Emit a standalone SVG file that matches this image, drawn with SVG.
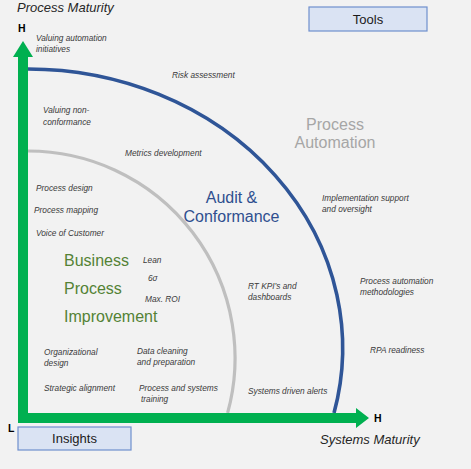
<svg xmlns="http://www.w3.org/2000/svg" width="471" height="469" viewBox="0 0 471 469">
<style>
.s{font-family:"Liberation Sans",Arial,sans-serif;font-style:italic;font-size:8.3px;fill:#3a3a3a}
.ax{font-family:"Liberation Sans",Arial,sans-serif;font-style:italic;font-size:13px;fill:#262626}
.hl{font-family:"Liberation Sans",Arial,sans-serif;font-weight:bold;font-size:10.5px;fill:#000}
.g{font-family:"Liberation Sans",Arial,sans-serif;font-size:16px;fill:#548235}
.b{font-family:"Liberation Sans",Arial,sans-serif;font-size:16px;fill:#2f4f8f;text-anchor:middle}
.a{font-family:"Liberation Sans",Arial,sans-serif;font-size:16px;fill:#a6a6a6;text-anchor:middle}
.box{fill:#dae3f3;stroke:#6f8fce;stroke-width:1.2}
.bt{font-family:"Liberation Sans",Arial,sans-serif;font-size:13px;fill:#1a1a1a;text-anchor:middle}
.green{fill:#00b050}
</style>
<rect width="471" height="469" fill="#f2f2f2"/>
<g id="arcs">
<path d="M28 151 A207 207 0 0 1 227.6 413" fill="none" stroke="#bfbfbf" stroke-width="3.2"/>
<path d="M28 69 A315 279 0 0 1 334 413" fill="none" stroke="#2f5597" stroke-width="3.6"/>
</g>
<g id="connectors">
<path class="green" d="M18 423 V57 H13 L23 41 L33 57 H28 V423 Z"/>
<path class="green" d="M18 413 H356 V408 L369 418 L356 428 V423 H18 Z"/>
</g>
<g id="axis-labels">
<text class="ax" x="17" y="12">Process Maturity</text>
<text class="hl" x="18" y="32">H</text>
<text class="hl" x="8" y="432">L</text>
<text class="hl" x="374" y="422">H</text>
<text class="ax" x="320" y="444">Systems Maturity</text>
</g>
<g id="tools">
<rect class="box" x="309" y="7" width="118" height="24"/>
<text class="bt" x="368" y="23.5">Tools</text>
</g>
<g id="insights">
<rect class="box" x="18" y="427" width="113" height="23"/>
<text class="bt" x="74.5" y="443">Insights</text>
</g>
<g id="business-process-improvement">
<text class="g" x="64" y="266">Business</text>
<text class="g" x="64" y="294">Process</text>
<text class="g" x="64" y="322">Improvement</text>
</g>
<g id="audit-conformance">
<text class="b" x="231.5" y="203">Audit &amp;</text>
<text class="b" x="231.5" y="222">Conformance</text>
</g>
<g id="process-automation">
<text class="a" x="335" y="130">Process</text>
<text class="a" x="335" y="148">Automation</text>
</g>
<g id="items">
<text class="s" x="36" y="41">Valuing automation</text>
<text class="s" x="36" y="52">initiatives</text>
<text class="s" x="172" y="78">Risk assessment</text>
<text class="s" x="43" y="113">Valuing non-</text>
<text class="s" x="43" y="125">conformance</text>
<text class="s" x="125" y="156">Metrics development</text>
<text class="s" x="36" y="191">Process design</text>
<text class="s" x="34" y="213">Process mapping</text>
<text class="s" x="36" y="236">Voice of Customer</text>
<text class="s" x="143" y="263">Lean</text>
<text class="s" x="148" y="281">6σ</text>
<text class="s" x="145" y="302">Max. ROI</text>
<text class="s" x="44" y="355">Organizational</text>
<text class="s" x="44" y="366">design</text>
<text class="s" x="137" y="354">Data cleaning</text>
<text class="s" x="137" y="365">and preparation</text>
<text class="s" x="44" y="391">Strategic alignment</text>
<text class="s" x="139" y="391">Process and systems</text>
<text class="s" x="141" y="402">training</text>
<text class="s" x="322" y="201">Implementation support</text>
<text class="s" x="322" y="212">and oversight</text>
<text class="s" x="248" y="289">RT KPI’s and</text>
<text class="s" x="248" y="300">dashboards</text>
<text class="s" x="360" y="284">Process automation</text>
<text class="s" x="360" y="295">methodologies</text>
<text class="s" x="370" y="353">RPA readiness</text>
<text class="s" x="248" y="394">Systems driven alerts</text>
</g>
</svg>
